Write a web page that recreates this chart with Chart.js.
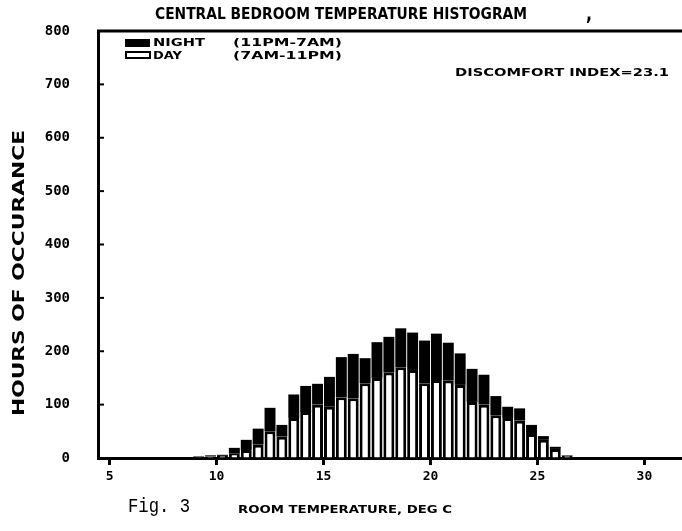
<!DOCTYPE html>
<html>
<head>
<meta charset="utf-8">
<script src="https://cdn.jsdelivr.net/npm/chart.js@4.4.1/dist/chart.umd.min.js"></script>
<style>
  html, body { margin: 0; padding: 0; background: #fff; }
  #wrap { width: 682px; height: 531px; position: relative; }
</style>
</head>
<body>
<div id="wrap"><canvas id="chart"></canvas></div>
<script>
// 1 degF bins (lower edge), plotted on a degC axis
const binsF = [48, 49, 50, 51, 52, 53, 54, 55, 56, 57, 58, 59, 60, 61, 62, 63,
               64, 65, 66, 67, 68, 69, 70, 71, 72, 73, 74, 75, 76, 77, 78, 79];
const dayHours = [2, 3, 4, 8, 15, 25, 50, 40, 75, 86, 100, 96, 114, 112, 140, 150,
                  160, 170, 165, 140, 146, 145, 137, 105, 100, 80, 75, 70, 45, 34, 17, 4];
const nightHours = [1, 2, 2, 11, 19, 30, 44, 22, 44, 49, 39, 56, 75, 83, 47, 67,
                    67, 73, 70, 80, 87, 71, 59, 62, 56, 36, 21, 23, 17, 7, 4, 1];
const yTicks = [0, 100, 200, 300, 400, 500, 600, 700, 800];
const xTicks = [5, 10, 15, 20, 25, 30];

const toC = f => (f + 0.5 - 32) * 5 / 9;
const daySeries = binsF.map((f, i) => ({ x: toC(f), y: dayHours[i] }));
const nightSeries = binsF.map((f, i) => ({ x: toC(f), y: nightHours[i] }));

// stretch text horizontally to a given width
function fitText(ctx, text, x, y, width, font) {
  ctx.save();
  ctx.font = font;
  ctx.textBaseline = 'middle';
  ctx.textAlign = 'left';
  const w = ctx.measureText(text).width;
  ctx.translate(x, y);
  ctx.scale(width / w, 1);
  ctx.fillText(text, 0, 0);
  ctx.restore();
}

const decorations = {
  id: 'decorations',
  afterDraw(chart) {
    const { ctx, chartArea: a, scales } = chart;
    ctx.save();
    ctx.fillStyle = '#000';
    ctx.strokeStyle = '#000';

    // top frame line
    ctx.lineWidth = 3;
    ctx.beginPath();
    ctx.moveTo(a.left - 1, a.top);
    ctx.lineTo(a.right + 2, a.top);
    ctx.stroke();

    // inward y tick marks
    ctx.lineWidth = 2;
    yTicks.forEach(v => {
      const py = scales.y.getPixelForValue(v);
      ctx.beginPath();
      ctx.moveTo(a.left, py);
      ctx.lineTo(a.left + 6, py);
      ctx.stroke();
    });

    const sans = 'bold 15px "DejaVu Sans"';
    const small = 'bold 11px "DejaVu Sans"';
    fitText(ctx, 'CENTRAL BEDROOM TEMPERATURE HISTOGRAM', 155, 15, 372, sans);
    fitText(ctx, ',', 586, 15, 6, 'bold 20px "DejaVu Sans"');

    // legend
    ctx.fillRect(125, 39, 25, 8);
    ctx.lineWidth = 2;
    ctx.strokeRect(126, 52, 24, 6);
    fitText(ctx, 'NIGHT', 153, 43, 52, small);
    fitText(ctx, '(11PM-7AM)', 233, 43, 109, small);
    fitText(ctx, 'DAY', 153, 56, 29, small);
    fitText(ctx, '(7AM-11PM)', 233, 56, 109, small);

    fitText(ctx, 'DISCOMFORT INDEX=23.1', 455, 73, 214, small);

    // y axis title
    ctx.save();
    ctx.translate(20, 416);
    ctx.rotate(-Math.PI / 2);
    fitText(ctx, 'HOURS OF OCCURANCE', 0, 0, 286, sans);
    ctx.restore();

    fitText(ctx, 'Fig. 3', 128, 507, 62, '20px "Liberation Mono"');
    fitText(ctx, 'ROOM TEMPERATURE, DEG C', 238, 510, 214, 'bold 10px "DejaVu Sans"');
    ctx.restore();
  }
};

new Chart(document.getElementById('chart'), {
  type: 'bar',
  data: {
    datasets: [
      {
        label: 'DAY (7AM-11PM)',
        data: daySeries,
        backgroundColor: '#fff',
        borderColor: '#000',
        borderWidth: 3,
        barPercentage: 0.92,
        categoryPercentage: 1,
      },
      {
        label: 'NIGHT (11PM-7AM)',
        data: nightSeries,
        backgroundColor: '#000',
        borderColor: '#000',
        borderWidth: 0,
        barPercentage: 0.92,
        categoryPercentage: 1,
      },
    ],
  },
  options: {
    responsive: true,
    maintainAspectRatio: false,
    animation: false,
    layout: { padding: { left: 0, top: 31, right: 1, bottom: 0 } },
    plugins: {
      legend: { display: false },
      tooltip: { enabled: false },
    },
    scales: {
      x: {
        type: 'linear',
        stacked: true,
        offset: false,
        min: 4.46,
        max: 31.71,
        afterFit: s => { s.height = 73; },
        afterBuildTicks: s => { s.ticks = xTicks.map(v => ({ value: v })); },
        border: { display: true, color: '#000', width: 3 },
        grid: {
          offset: false,
          drawOnChartArea: false,
          drawTicks: true,
          tickLength: 7,
          tickWidth: 3,
          tickColor: '#000',
        },
        ticks: {
          color: '#000',
          padding: 4,
          font: { family: 'DejaVu Sans Mono', weight: 'bold', size: 13 },
        },
      },
      y: {
        stacked: true,
        min: 0,
        max: 800,
        afterFit: s => { s.width = 98; },
        afterBuildTicks: s => { s.ticks = yTicks.map(v => ({ value: v })); },
        border: { display: true, color: '#000', width: 3 },
        // outer tick marks hidden; they only space the labels off the axis
        grid: { drawOnChartArea: false, drawTicks: true, tickLength: 26, tickColor: 'rgba(0,0,0,0)' },
        ticks: {
          color: '#000',
          padding: 2,
          font: { family: 'DejaVu Sans Mono', weight: 'bold', size: 14 },
        },
      },
    },
  },
  plugins: [decorations],
});
</script>
</body>
</html>
